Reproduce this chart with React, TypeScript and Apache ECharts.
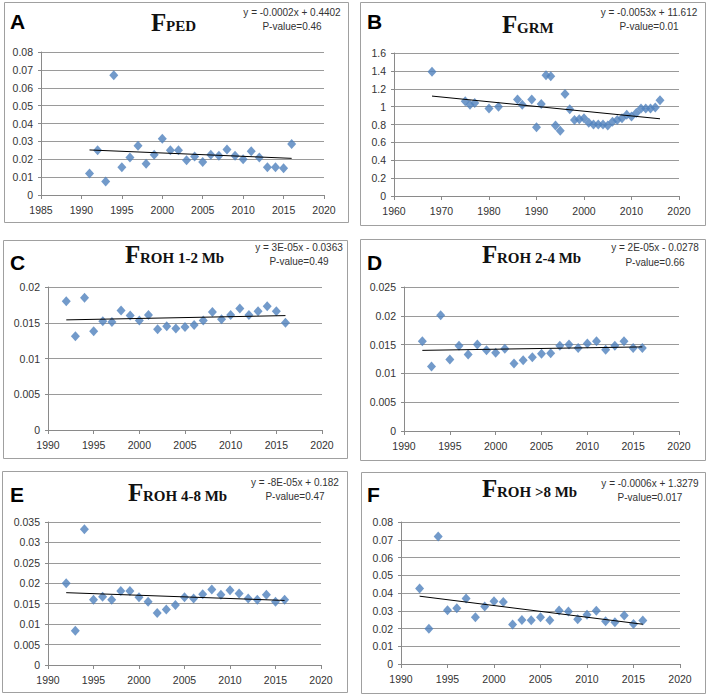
import React, { useEffect, useRef } from "react";
import * as echarts from "echarts";

// ---------- DATA ----------
const yearsA = [1991, 1992, 1993, 1994, 1995, 1996, 1997, 1998, 1999, 2000, 2001, 2002, 2003, 2004, 2005, 2006, 2007, 2008, 2009, 2010, 2011, 2012, 2013, 2014, 2015, 2016];
const valuesA = [0.012, 0.025, 0.0075, 0.067, 0.0155, 0.021, 0.0275, 0.0175, 0.0225, 0.0315, 0.025, 0.025, 0.0195, 0.0215, 0.0185, 0.0225, 0.022, 0.0255, 0.022, 0.02, 0.0245, 0.021, 0.0155, 0.0155, 0.015, 0.0285];
const trendYearsA = [1991, 2016];
const trendValuesA = [0.0252, 0.0205];

const yearsB = [1968, 1975, 1976, 1977, 1980, 1982, 1986, 1987, 1989, 1990, 1991, 1992, 1993, 1994, 1995, 1996, 1997, 1998, 1999, 2000, 2001, 2002, 2003, 2004, 2005, 2006, 2007, 2008, 2009, 2010, 2011, 2012, 2013, 2014, 2015, 2016];
const valuesB = [1.39, 1.06, 1.02, 1.04, 0.98, 1.0, 1.08, 1.02, 1.08, 0.77, 1.03, 1.35, 1.34, 0.79, 0.73, 1.14, 0.97, 0.85, 0.86, 0.87, 0.82, 0.8, 0.8, 0.8, 0.79, 0.83, 0.85, 0.87, 0.91, 0.89, 0.93, 0.98, 0.98, 0.98, 0.99, 1.07];
const trendYearsB = [1968, 2016];
const trendValuesB = [1.118, 0.864];

const years1992 = [1992, 1993, 1994, 1995, 1996, 1997, 1998, 1999, 2000, 2001, 2002, 2003, 2004, 2005, 2006, 2007, 2008, 2009, 2010, 2011, 2012, 2013, 2014, 2015, 2016];
const valuesC = [0.018, 0.0131, 0.0185, 0.0138, 0.0152, 0.0151, 0.0167, 0.016, 0.0153, 0.0161, 0.0141, 0.0145, 0.0142, 0.0144, 0.0147, 0.0153, 0.0165, 0.0155, 0.0161, 0.017, 0.0161, 0.0166, 0.0173, 0.0166, 0.015];
const trendYearsC = [1992, 2016];
const trendValuesC = [0.0154, 0.016];

const valuesD = [0.0156, 0.0112, 0.0201, 0.0124, 0.0148, 0.0133, 0.015, 0.014, 0.0136, 0.0143, 0.0117, 0.0123, 0.0128, 0.0134, 0.0135, 0.0148, 0.015, 0.0144, 0.0152, 0.0156, 0.0141, 0.0148, 0.0156, 0.0144, 0.0144];
const trendYearsD = [1992, 2016];
const trendValuesD = [0.014, 0.0146];

const valuesE = [0.02, 0.0084, 0.0332, 0.016, 0.0167, 0.016, 0.0181, 0.0181, 0.0166, 0.0155, 0.0127, 0.0136, 0.0147, 0.0166, 0.0163, 0.0173, 0.0185, 0.0172, 0.0183, 0.0175, 0.0163, 0.016, 0.0172, 0.0155, 0.016];
const trendYearsE = [1992, 2016];
const trendValuesE = [0.0177, 0.0158];

const valuesF = [0.0425, 0.0198, 0.0719, 0.0303, 0.0314, 0.0369, 0.0264, 0.0324, 0.0354, 0.035, 0.0222, 0.0248, 0.0247, 0.0264, 0.0247, 0.0301, 0.0296, 0.0252, 0.0277, 0.03, 0.0241, 0.0235, 0.0273, 0.0226, 0.0245];
const trendYearsF = [1992, 2016];
const trendValuesF = [0.0382, 0.0224];

const panelLetters = ["A", "B", "C", "D", "E", "F"];
const subscripts = ["PED", "GRM", "ROH 1-2 Mb", "ROH 2-4 Mb", "ROH 4-8 Mb", "ROH >8 Mb"];
const equations = [
  "y = -0.0002x + 0.4402",
  "y = -0.0053x + 11.612",
  "y = 3E-05x - 0.0363",
  "y = 2E-05x - 0.0278",
  "y = -8E-05x + 0.182",
  "y = -0.0006x + 1.3279",
];
const pValues = ["P-value=0.46", "P-value=0.01", "P-value=0.49", "P-value=0.66", "P-value=0.47", "P-value=0.017"];

// x axis: [min, max, interval]; y axis: [min, max, interval]
const xScales = [[1985, 2020, 5], [1960, 2020, 10], [1990, 2020, 5], [1990, 2020, 5], [1990, 2020, 5], [1990, 2020, 5]];
const yScales = [[0, 0.08, 0.01], [0, 1.6, 0.2], [0, 0.02, 0.005], [0, 0.025, 0.005], [0, 0.035, 0.005], [0, 0.08, 0.01]];

const pointSets = [
  [yearsA, valuesA],
  [yearsB, valuesB],
  [years1992, valuesC],
  [years1992, valuesD],
  [years1992, valuesE],
  [years1992, valuesF],
];
const trendSets = [
  [trendYearsA, trendValuesA],
  [trendYearsB, trendValuesB],
  [trendYearsC, trendValuesC],
  [trendYearsD, trendValuesD],
  [trendYearsE, trendValuesE],
  [trendYearsF, trendValuesF],
];

// ---------- LAYOUT ----------
const grids = [
  { left: 41, top: 52, width: 283, height: 143 },
  { left: 394, top: 53, width: 285, height: 143 },
  { left: 48, top: 287, width: 274, height: 143 },
  { left: 404, top: 287, width: 275, height: 144 },
  { left: 48, top: 522, width: 273, height: 143 },
  { left: 401, top: 522, width: 279, height: 142 },
];
const frames = [
  { x: 4, y: 2, w: 344, h: 220 },
  { x: 360, y: 2, w: 345, h: 223 },
  { x: 3, y: 240, w: 344, h: 218 },
  { x: 360, y: 239, w: 345, h: 221 },
  { x: 2, y: 471, w: 345, h: 221 },
  { x: 361, y: 472, w: 344, h: 221 },
];
const letterPos = [[10, 21], [367, 21], [10, 262], [367, 262], [10, 494], [367, 494]];
// F left x, baseline y, subscript left x
const titlePos = [[151, 31, 166], [502, 33, 517], [125, 263, 140], [482, 263, 497], [128, 501, 143], [482, 497, 497]];
// center x, eq center y, p center y
const eqPos = [[292, 12, 26], [649, 12, 26], [299, 247.5, 261.5], [655, 247.5, 262], [295, 482.5, 496], [650, 483, 497]];

const SANS = '"Liberation Sans", Arial, sans-serif';
const SERIF = '"Liberation Serif", "Times New Roman", serif';
const AXIS_COLOR = "#8a8a8a";
const GRID_COLOR = "#9a9a9a";
const MARKER = "#4f81bd";

const fmt = (v: number) => String(Number(v.toFixed(6)));

export default function App() {
  const ref = useRef<HTMLDivElement>(null);
  useEffect(() => {
    if (!ref.current) return;
    const chart = echarts.init(ref.current, undefined, { renderer: "svg" });

    const xAxis = xScales.map((s, i) => ({
      type: "value",
      gridIndex: i,
      min: s[0],
      max: s[1],
      interval: s[2],
      axisLine: { show: true, onZero: false, lineStyle: { color: AXIS_COLOR, width: 1 } },
      axisTick: { show: true, length: 4, inside: false, lineStyle: { color: AXIS_COLOR } },
      axisLabel: { color: "#333", fontFamily: SANS, fontSize: 10.5, margin: 9, formatter: (v: number) => String(v) },
      splitLine: { show: false },
    }));
    const yAxis = yScales.map((s, i) => ({
      type: "value",
      gridIndex: i,
      min: s[0],
      max: s[1],
      interval: s[2],
      axisLine: { show: true, lineStyle: { color: AXIS_COLOR, width: 1 } },
      axisTick: { show: true, length: 3, lineStyle: { color: AXIS_COLOR } },
      axisLabel: { color: "#333", fontFamily: SANS, fontSize: 10.5, margin: 8, formatter: fmt },
      splitLine: { show: true, lineStyle: { color: GRID_COLOR, width: 1 } },
    }));

    const series: any[] = [];
    pointSets.forEach(([xs, ys], i) => {
      series.push({
        type: "scatter",
        xAxisIndex: i,
        yAxisIndex: i,
        symbol: "diamond",
        symbolSize: [9, 10],
        itemStyle: { color: MARKER },
        data: xs.map((x, k) => [x, ys[k]]),
        z: 2,
      });
    });
    trendSets.forEach(([xs, ys], i) => {
      series.push({
        type: "line",
        xAxisIndex: i,
        yAxisIndex: i,
        symbol: "none",
        lineStyle: { color: "#000", width: 1 },
        data: xs.map((x, k) => [x, ys[k]]),
        z: 3,
      });
    });

    const graphic: any[] = [];
    frames.forEach((f) => {
      graphic.push({
        type: "rect",
        shape: { x: f.x + 0.5, y: f.y + 0.5, width: f.w, height: f.h },
        style: { fill: "none", stroke: "#a0a0a0", lineWidth: 1 },
        silent: true,
        z: -1,
      });
    });
    panelLetters.forEach((l, i) => {
      graphic.push({
        type: "text",
        x: letterPos[i][0],
        y: letterPos[i][1],
        style: { text: l, font: `bold 21px ${SANS}`, fill: "#000", align: "left", verticalAlign: "middle" },
      });
    });
    subscripts.forEach((s, i) => {
      const [fx, base, sx] = titlePos[i];
      graphic.push({
        type: "text",
        x: fx,
        y: base - 0.34 * 25,
        style: { text: "F", font: `bold 25px ${SERIF}`, fill: "#111", align: "left", verticalAlign: "middle" },
      });
      graphic.push({
        type: "text",
        x: sx,
        y: base - 0.34 * 15,
        style: { text: s, font: `bold 15px ${SERIF}`, fill: "#111", align: "left", verticalAlign: "middle" },
      });
    });
    equations.forEach((e, i) => {
      const [cx, ey, py] = eqPos[i];
      graphic.push({
        type: "text",
        x: cx,
        y: ey,
        style: { text: e, font: `10px ${SANS}`, fill: "#333", align: "center", verticalAlign: "middle" },
      });
      graphic.push({
        type: "text",
        x: cx,
        y: py,
        style: { text: pValues[i], font: `10px ${SANS}`, fill: "#333", align: "center", verticalAlign: "middle" },
      });
    });

    chart.setOption({
      animation: false,
      backgroundColor: "#fff",
      grid: grids.map((g) => ({ ...g, containLabel: false })),
      xAxis,
      yAxis,
      series,
      graphic,
    });
    return () => chart.dispose();
  }, []);

  return (
    <div
      ref={ref}
      style={{ position: "fixed", left: 0, top: 0, width: 709, height: 697, background: "#fff" }}
    />
  );
}
